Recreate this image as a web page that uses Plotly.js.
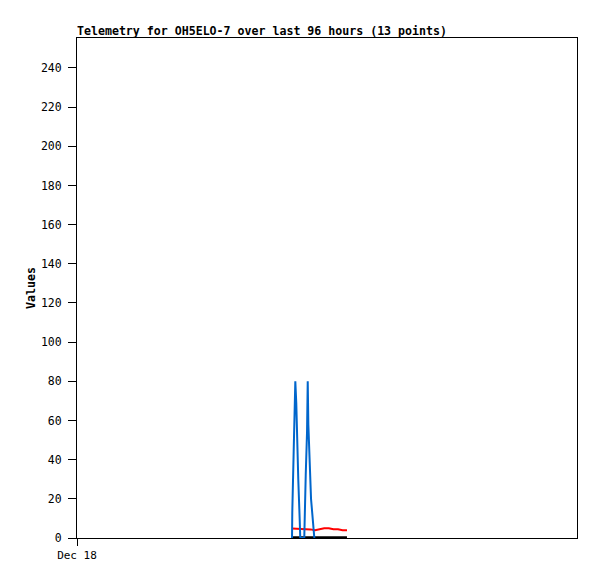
<!DOCTYPE html>
<html>
<head>
<meta charset="utf-8">
<script src="https://cdn.plot.ly/plotly-3.0.1.min.js"></script>
<style>html,body{margin:0;padding:0;background:#fff;}#chart{width:597px;height:579px;}</style>
</head>
<body>
<div id="chart"></div>
<script>
const blueTimes = ["2024-12-19 17:17","2024-12-19 17:20","2024-12-19 17:36","2024-12-19 17:43","2024-12-19 17:55","2024-12-19 18:06","2024-12-19 18:14","2024-12-19 18:29","2024-12-19 18:45","2024-12-19 18:52",
  "2024-12-19 19:38","2024-12-19 19:41","2024-12-19 19:55","2024-12-19 20:10","2024-12-19 20:18","2024-12-19 20:25","2024-12-19 20:41","2024-12-19 20:56","2024-12-19 21:19","2024-12-19 21:34"];
const blueValues = [0,13,44,66,80,69,50,30,10,0, 0,10,32,54,80,58,39,20,8,0];
const redTimes = ["2024-12-19 17:17","2024-12-19 18:10","2024-12-19 19:03","2024-12-19 19:56","2024-12-19 20:49","2024-12-19 21:42","2024-12-19 22:35","2024-12-19 23:28","2024-12-20 00:21","2024-12-20 01:14","2024-12-20 02:07","2024-12-20 03:00","2024-12-20 03:50"];
const redValues = [4.9,4.8,4.6,4.8,4.4,4.0,4.4,5.0,5.0,4.5,4.5,4.0,4.0];
const blackValues = [0.4,0.4,0.4,0.4,0.4,0.4,0.4,0.4,0.4,0.4,0.4,0.4,0.4];
const yTicks = [0,20,40,60,80,100,120,140,160,180,200,220,240];
const xTickVals = ["2024-12-18 00:00"];
const xTickText = ["Dec 18"];

const traces = [
  {x: redTimes, y: blackValues, mode: 'lines', line: {color: '#000000', width: 2}, hoverinfo: 'skip'},
  {x: redTimes, y: redValues, mode: 'lines', line: {color: '#ff0000', width: 2}, hoverinfo: 'skip'},
  {x: blueTimes, y: blueValues, mode: 'lines', line: {color: '#0066cc', width: 2}, hoverinfo: 'skip'}
];

const mono = 'DejaVu Sans Mono, Liberation Mono, monospace';
const layout = {
  width: 597, height: 579,
  margin: {l: 77, r: 20, t: 38, b: 41},
  paper_bgcolor: '#ffffff', plot_bgcolor: '#ffffff',
  showlegend: false,
  title: {text: '<b>Telemetry for OH5ELO-7 over last 96 hours (13 points)</b>', x: 77/597, xanchor: 'left', y: 1 - 31/579, yanchor: 'middle', font: {family: mono, size: 11.6, color: '#000'}},
  xaxis: {type: 'date', range: ['2024-12-18 00:00', '2024-12-22 00:00'], tickvals: xTickVals, ticktext: xTickText,
    ticks: 'outside', ticklen: 7, tickcolor: '#000', tickwidth: 1, showgrid: false, zeroline: false,
    showline: true, linecolor: '#000', linewidth: 1, mirror: true, tickfont: {family: mono, size: 11, color: '#000'}},
  yaxis: {range: [0, 255.3], tickvals: yTicks, ticks: 'outside', ticklen: 8, tickcolor: '#000', tickwidth: 1,
    ticklabelstandoff: 4,
    showgrid: false, zeroline: false, showline: true, linecolor: '#000', linewidth: 1, mirror: true,
    tickfont: {family: mono, size: 11.5, color: '#000'},
    title: {text: '<b>Values</b>', font: {family: mono, size: 11.6, color: '#000'}, standoff: 2}}
};
Plotly.newPlot('chart', traces, layout, {staticPlot: true, displayModeBar: false});
</script>
</body>
</html>
